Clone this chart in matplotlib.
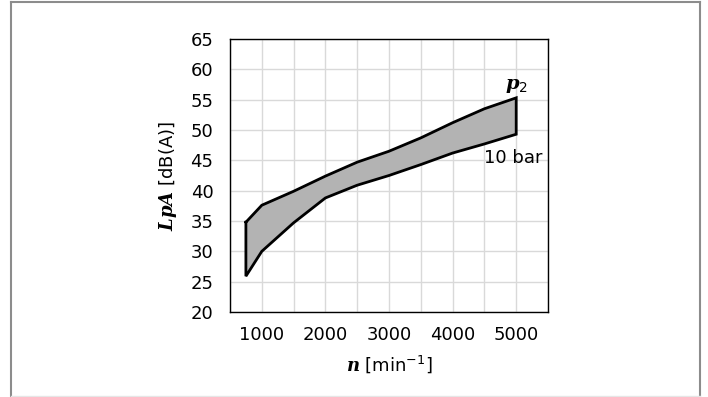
import matplotlib
matplotlib.use("Agg")
import matplotlib.pyplot as plt
from matplotlib.lines import Line2D
import numpy as np

plt.rcParams['font.family'] = ['DejaVu Sans']
plt.rcParams['mathtext.fontset'] = 'custom'
plt.rcParams['mathtext.it'] = 'DejaVu Serif:bold:italic'
plt.rcParams['mathtext.rm'] = 'DejaVu Sans'

# Data
speed = [750, 1000, 1500, 2000, 2500, 3000, 3500, 4000, 4500, 5000]
upper = [34.8, 37.6, 39.9, 42.4, 44.7, 46.5, 48.7, 51.2, 53.5, 55.3]
lower = [25.9, 30.0, 34.7, 38.8, 40.9, 42.5, 44.3, 46.2, 47.7, 49.3]
xticks = [1000, 2000, 3000, 4000, 5000]
yticks = [20, 25, 30, 35, 40, 45, 50, 55, 60, 65]

fig = plt.figure(figsize=(7.08, 3.97), dpi=100)
# figure frame
fig.add_artist(Line2D([11/708, 11/708], [1 - 2/397, 1 - 396/397], transform=fig.transFigure, color='#8c8c8c', lw=1.5))
fig.add_artist(Line2D([700/708, 700/708], [1 - 2/397, 1 - 396/397], transform=fig.transFigure, color='#8c8c8c', lw=1.5))
fig.add_artist(Line2D([11/708, 700/708], [1 - 2/397, 1 - 2/397], transform=fig.transFigure, color='#8c8c8c', lw=1.5))
fig.add_artist(Line2D([11/708, 700/708], [1 - 396/397, 1 - 396/397], transform=fig.transFigure, color='#e6e6e6', lw=1.0))

ax = fig.add_axes([230/708, 1 - 312/397, 318/708, 273/397])
ax.set_xlim(500, 5500)
ax.set_ylim(20, 65)
ax.set_xticks(xticks)
ax.set_xticks(np.arange(500, 5501, 500), minor=True)
ax.set_yticks(yticks)
ax.grid(True, which='both', color='#d9d9d9', lw=1.0)
ax.set_axisbelow(True)
ax.tick_params(which='both', length=0, labelsize=13, pad=10)
ax.tick_params(axis='y', pad=12)
for s in ax.spines.values():
    s.set_color('black')
    s.set_linewidth(1.0)

xs = np.array(speed + speed[::-1] + [speed[0]])
ys = np.array(upper + lower[::-1] + [upper[0]])
ax.fill(xs, ys, facecolor='#b3b3b3', edgecolor='none', zorder=2)
ax.plot(xs, ys, color='black', lw=2.0, solid_joinstyle='miter', zorder=3)

ax.text(5000, 57.4, r'$p_{\mathrm{2}}$', fontsize=14, ha='center', va='center')
ax.text(4960, 45.4, '10 bar', fontsize=13, ha='center', va='center')

ax.set_xlabel(r'$n$ [min$^{\mathrm{-1}}$]', fontsize=13, labelpad=7)
ax.set_ylabel(r'$LpA$ [dB(A)]', fontsize=13, labelpad=8)

fig.savefig('out.png', dpi=100)
